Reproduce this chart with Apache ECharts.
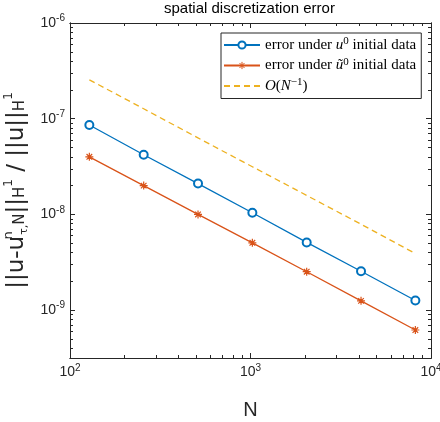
<!DOCTYPE html>
<html>
<head>
<meta charset="utf-8">
<script src="https://cdn.jsdelivr.net/npm/echarts@6/dist/echarts.min.js"></script>
<style>html,body{margin:0;padding:0;background:#fff;}#c{width:440px;height:422px;}</style>
</head>
<body>
<div id="c"></div>
<script>
// ---- data ----
const N = [128, 256, 512, 1024, 2048, 4096, 8192];
const errU0 = [8.6e-8, 4.2e-8, 2.1e-8, 1.04e-8, 5.1e-9, 2.55e-9, 1.26e-9];
const errUt0 = [4.0e-8, 2.0e-8, 1.0e-8, 5.05e-9, 2.52e-9, 1.25e-9, 6.2e-10];
const orderRef = [2.55e-7, 1.27e-7, 6.3e-8, 3.15e-8, 1.58e-8, 7.9e-9, 3.9e-9];
const seriesNames = ['error under u0 initial data', 'error under ũ0 initial data', 'O(N^-1)'];
const xMajorTicks = [1e2, 1e3, 1e4];
const yMajorTicks = [1e-9, 1e-8, 1e-7, 1e-6];
const xRange = [1e2, 1e4];
const yRange = [3.1623e-10, 1e-6];
const titleText = 'spatial discretization error';

// ---- helpers ----
function minorTicks(range) {
  const out = [];
  const lo = Math.floor(Math.log10(range[0])), hi = Math.ceil(Math.log10(range[1]));
  for (let e = lo; e < hi; e++) {
    for (let m = 2; m <= 9; m++) {
      const v = m * Math.pow(10, e);
      if (v >= range[0] * 0.999 && v <= range[1] * 1.001) out.push(v);
    }
  }
  return out;
}
const axisColor = '#262626';
const labelRich = {
  b: { fontFamily: 'Liberation Sans', fontSize: 14, color: '#262626' },
  s: { fontFamily: 'Liberation Sans', fontSize: 10, color: '#262626', padding: [0, 0, 9, 0] }
};
function expFmt(v) {
  const e = Math.round(Math.log10(v));
  return '{b|10}{s|' + e + '}';
}
function mkAxis(dim, position, range, ticks, len, withLabel, extra) {
  const ax = {
    type: 'log', logBase: 10, position: position, min: range[0], max: range[1],
    axisLine: { show: true, onZero: false, lineStyle: { color: axisColor, width: 1 } },
    axisTick: { show: true, inside: true, length: len, customValues: ticks, lineStyle: { color: axisColor, width: 1 } },
    axisLabel: withLabel ? { show: true, customValues: withLabel, formatter: expFmt, rich: labelRich, margin: 5 } : { show: false },
    splitLine: { show: false }, minorTick: { show: false }, minorSplitLine: { show: false }
  };
  return Object.assign(ax, extra || {});
}
const xMinor = minorTicks(xRange), yMinor = minorTicks(yRange);

const xAxes = [
  mkAxis('x', 'bottom', xRange, xMajorTicks, 5, xMajorTicks, {
    name: 'N', nameLocation: 'middle', nameGap: 42,
    nameTextStyle: { fontFamily: 'Liberation Sans', fontSize: 20, color: '#262626' }
  }),
  mkAxis('x', 'bottom', xRange, xMinor, 3, null),
  mkAxis('x', 'top', xRange, xMajorTicks, 5, null),
  mkAxis('x', 'top', xRange, xMinor, 3, null)
];
const yf = 'DejaVu Sans';
const nameRich = {
  m: { fontFamily: yf, fontSize: 23, color: '#262626' },
  sup: { fontFamily: yf, fontSize: 13, color: '#262626', padding: [0, 0, 17, 0], width: 1 },
  tau: { fontFamily: yf, fontSize: 11, color: '#262626', padding: [14, 0, 0, 0] },
  sub: { fontFamily: yf, fontSize: 15, color: '#262626', padding: [6, 0, 0, 0] },
  one: { fontFamily: yf, fontSize: 12, color: '#262626', padding: [0, 0, 17, 0] }
};
const yAxes = [
  mkAxis('y', 'left', yRange, yMajorTicks, 5, yMajorTicks, {
    name: '{m|||u-u}{sup|n}{tau|τ,}{sub|N}{m|||}{sub|H}{one|1}{m| / ||u||}{sub|H}{one|1}',
    nameLocation: 'middle', nameGap: 36,
    nameTextStyle: { rich: nameRich }
  }),
  mkAxis('y', 'left', yRange, yMinor, 3, null),
  mkAxis('y', 'right', yRange, yMajorTicks, 5, null),
  mkAxis('y', 'right', yRange, yMinor, 3, null)
];

function pairs(xs, ys) { return xs.map((x, i) => [x, ys[i]]); }
const blue = '#0072BD', red = '#D95319', yellow = '#EDB120';
const starPath = 'path://M5,0L5,10M0,5L10,5M1.5,1.5L8.5,8.5M1.5,8.5L8.5,1.5';

const legendRich = {
  t: { fontFamily: 'Liberation Serif', fontSize: 15, color: '#000' },
  it: { fontFamily: 'Liberation Serif', fontStyle: 'italic', fontSize: 15, color: '#000' },
  sp: { fontFamily: 'Liberation Serif', fontSize: 11, color: '#000', padding: [0, 0, 7, 0] }
};
const legendFmt = {};
legendFmt[seriesNames[0]] = '{t|error under }{it|u}{sp|0}{t| initial data}';
legendFmt[seriesNames[1]] = '{t|error under }{it|ũ}{sp|0}{t| initial data}';
legendFmt[seriesNames[2]] = '{it|O}{t|(}{it|N}{sp|−1}{t|)}';

const chart = echarts.init(document.getElementById('c'), null, { renderer: 'canvas' });
chart.setOption({
  animation: false,
  backgroundColor: '#fff',
  title: {
    text: titleText, left: 164, top: 1, padding: 0,
    textStyle: { fontFamily: 'Liberation Sans', fontSize: 15, fontWeight: 'normal', color: '#000' }
  },
  grid: { left: 70, right: 9, top: 23, bottom: 64, containLabel: false, outerBoundsMode: 'none' },
  xAxis: xAxes,
  yAxis: yAxes,
  legend: {
    orient: 'vertical', left: 221, top: 33,
    backgroundColor: '#fff', borderColor: axisColor, borderWidth: 1, borderRadius: 0,
    padding: [3, 5, 5, 2], itemGap: 4, itemWidth: 36, itemHeight: 9,
    data: [
      { name: seriesNames[0] },
      { name: seriesNames[1], itemStyle: { borderWidth: 1 } },
      { name: seriesNames[2], itemStyle: { color: 'transparent', borderColor: 'transparent', borderWidth: 0 } }
    ],
    formatter: function (name) { return legendFmt[name]; },
    textStyle: { rich: legendRich }
  },
  series: [
    {
      name: seriesNames[0], type: 'line', data: pairs(N, errU0),
      symbol: 'emptyCircle', symbolSize: 8,
      lineStyle: { color: blue, width: 1.3 },
      itemStyle: { color: blue, borderColor: blue, borderWidth: 1.3 }
    },
    {
      name: seriesNames[1], type: 'line', data: pairs(N, errUt0),
      symbol: starPath, symbolSize: 8,
      lineStyle: { color: red, width: 1.3 },
      itemStyle: { color: red, borderColor: red, borderWidth: 1.2 }
    },
    {
      name: seriesNames[2], type: 'line', data: pairs(N, orderRef),
      symbol: 'none', showSymbol: false,
      lineStyle: { color: yellow, width: 1.3, type: [6, 4] },
      itemStyle: { color: yellow }
    }
  ]
});
</script>
</body>
</html>
